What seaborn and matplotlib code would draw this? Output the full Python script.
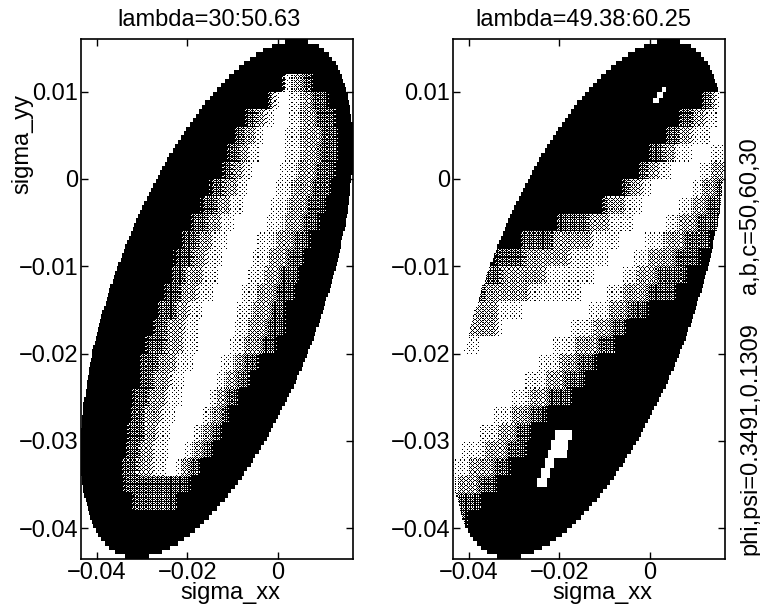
import numpy as np
import matplotlib
matplotlib.use('Agg')
import matplotlib.pyplot as plt
import seaborn as sns

# all strain values below are in units of 1e-3
titles = ['lambda=30:50.63', 'lambda=49.38:60.25']
xticks = [-0.04, -0.02, 0]
yticks = [0.01, 0, -0.01, -0.02, -0.03, -0.04]

# edge of the measured region, one value per row, top to bottom
xx_left = [1.5, -1.3, -3.3, -4.8, -6.2, -7.5, -8.6, -9.7, -10.7, -11.7, -12.6, -13.5, -14.3, -15.1, -15.9, -16.7,
           -17.4, -18.1, -18.8, -19.5, -20.2, -20.8, -21.5, -22.1, -22.7, -23.3, -23.9, -24.4, -25.0, -25.5, -26.1,
           -26.6, -27.1, -27.6, -28.1, -28.6, -29.0, -29.5, -30.0, -30.4, -30.9, -31.3, -31.7, -32.1, -32.5, -32.9,
           -33.3, -33.7, -34.1, -34.5, -34.8, -35.2, -35.5, -35.9, -36.2, -36.5, -36.9, -37.2, -37.5, -37.8, -38.1,
           -38.4, -38.7, -38.9, -39.2, -39.5, -39.7, -40.0, -40.2, -40.4, -40.7, -40.9, -41.1, -41.3, -41.5, -41.7,
           -41.8, -42.0, -42.2, -42.3, -42.5, -42.6, -42.7, -42.9, -43.0, -43.1, -43.2, -43.3, -43.3, -43.4, -43.5,
           -43.5, -43.5, -43.5, -43.5, -43.5, -43.5, -43.5, -43.4, -43.4, -43.3, -43.2, -43.0, -42.9, -42.7, -42.6,
           -42.3, -42.1, -41.8, -41.5, -41.1, -40.7, -40.2, -39.7, -39.0, -38.2, -37.2, -35.9, -33.7]
xx_right = [6.7, 8.9, 10.3, 11.3, 12.0, 12.7, 13.2, 13.7, 14.2, 14.5, 14.8, 15.1, 15.4, 15.6, 15.8, 15.9,
            16.1, 16.2, 16.3, 16.4, 16.5, 16.5, 16.6, 16.6, 16.6, 16.6, 16.6, 16.5, 16.5, 16.4, 16.4,
            16.3, 16.2, 16.1, 16.0, 15.9, 15.8, 15.7, 15.5, 15.4, 15.2, 15.0, 14.9, 14.7, 14.5, 14.3,
            14.1, 13.9, 13.7, 13.5, 13.2, 13.0, 12.8, 12.5, 12.2, 12.0, 11.7, 11.4, 11.1, 10.8, 10.5,
            10.2, 9.9, 9.6, 9.3, 8.9, 8.6, 8.2, 7.9, 7.5, 7.1, 6.8, 6.4, 6.0, 5.6, 5.2,
            4.7, 4.3, 3.9, 3.5, 3.0, 2.5, 2.1, 1.6, 1.1, 0.6, 0.1, -0.4, -0.9, -1.5, -2.0,
            -2.6, -3.1, -3.7, -4.3, -4.9, -5.5, -6.1, -6.8, -7.4, -8.1, -8.8, -9.5, -10.3, -11.0, -11.8,
            -12.7, -13.5, -14.4, -15.3, -16.3, -17.3, -18.3, -19.5, -20.7, -22.1, -23.7, -25.6, -28.5]

# grey shade between consecutive breaks in a row (0 black, 1 white)
shades = [0, 0.3, 0.6, 0.85, 1, 0.85, 0.6, 0.3, 0]
B = 30
S = -60

# where the shade changes along sigma_xx, one row per 0.002 of sigma_yy
left_breaks = [
    [B] * 8, [B] * 8,
    [0.4, 1.5, 2.4, 2.9, 3.5, 4.2, 5.1, 6.2],
    [-3.5, -1.5, 0.2, 2.0, 4.2, 6.0, 7.7, 9.7],
    [-8.4, -5.1, -1.8, 1.1, 4.0, 6.4, 8.6, 11.0],
    [-11.0, -7.7, -4.2, -1.3, 3.3, 6.2, 9.1, 11.5],
    [-12.4, -8.8, -5.5, -2.4, 3.1, 6.0, 8.8, 11.5],
    [-13.5, -10.2, -6.9, -4.0, 2.0, 5.1, 8.2, 10.8],
    [-16.1, -12.2, -8.2, -4.6, 1.3, 4.4, 7.3, 10.0],
    [-18.1, -13.7, -9.5, -5.7, 0.2, 3.3, 6.2, 8.8],
    [-20.3, -15.9, -11.5, -7.7, -0.7, 2.2, 5.1, 7.5],
    [-22.5, -17.9, -13.3, -9.3, -2.7, 0.2, 3.3, 5.7],
    [-24.1, -19.2, -14.6, -10.4, -4.0, -1.1, 1.8, 4.4],
    [-25.0, -20.3, -15.5, -11.5, -5.1, -2.2, 0.7, 3.1],
    [-26.5, -21.7, -16.6, -12.4, -6.4, -3.5, -0.7, 1.8],
    [-27.6, -23.0, -18.6, -14.6, -7.3, -4.6, -2.0, 0.4],
    [-29.0, -24.3, -19.7, -15.7, -8.0, -5.3, -2.7, -0.2],
    [-30.3, -25.2, -20.1, -15.9, -8.8, -6.4, -4.0, -1.8],
    [-31.6, -26.5, -21.4, -17.2, -10.6, -8.8, -7.3, -5.7],
    [-32.0, -27.4, -22.8, -18.8, -12.2, -10.6, -9.1, -7.7],
    [-33.4, -28.5, -23.6, -19.4, -13.3, -12.4, -11.3, -10.4],
    [-34.0, -29.4, -24.8, -20.8, -14.8, -13.9, -13.0, -12.4],
    [-34.3, -29.9, -25.6, -21.9, -16.6, -15.7, -14.8, -13.9],
    [-34.9, -30.5, -26.3, -22.5, -19.0, -17.9, -17.0, -15.9],
    [-35.6, -31.2, -27.0, -23.2, -21.0, -20.3, -19.4, -18.8],
    [-35.4, -21.2, -21.2, -21.2, -21.2, -21.2, -21.2, -21.2],
    [-33.4, -23.9, -23.9, -23.9, -23.9, -23.9, -23.9, -23.9],
    [B] * 8, [B] * 8, [B] * 8,
]
right_breaks = [
    [B] * 8, [B] * 8,
    [14.4, 15.9, B, B, B, B, B, B],
    [10.4, 13.3, 15.5, 17.0, B, B, B, B],
    [5.1, 9.5, 13.3, 16.6, B, B, B, B],
    [2.2, 6.6, 10.4, 14.8, B, B, B, B],
    [-1.5, 2.9, 6.6, 11.1, 14.8, B, B, B],
    [-3.8, -0.7, 2.9, 6.6, 12.6, 14.6, B, B],
    [-7.3, -4.4, -0.7, 2.2, 11.1, 12.6, 14.4, B],
    [-12.0, -9.5, -4.4, 0.0, 8.2, 10.4, 12.6, 15.5],
    [-22.0, -13.9, -8.2, -2.2, 5.1, 7.3, 10.4, 13.7],
    [-30.0, -21.4, -11.7, -5.1, 0.7, 4.4, 7.3, 11.7],
    [-35.4, -28.1, -17.0, -7.3, -2.2, 0.7, 5.1, 9.5],
    [S, -33.2, -22.1, -10.4, -4.4, -2.2, 1.5, 6.6],
    [S, -36.9, -25.9, -13.3, -8.2, -5.1, -0.7, 4.4],
    [S, S, -32.5, -26.5, -11.7, -8.2, -5.1, -2.2],
    [S, S, -33.0, -30.9, -16.1, -11.7, -8.8, -6.6],
    [S, S, S, -36.0, -19.9, -15.5, -11.7, -9.5],
    [S, S, S, -39.8, -22.8, -19.2, -16.1, -13.3],
    [S, S, S, S, -25.9, -22.1, -19.2, -16.1],
    [S, S, S, S, -29.2, -25.9, -22.8, -19.2],
    [S, S, S, S, -33.2, -29.4, -27.0, -24.3],
    [S, S, S, S, -36.0, -32.5, -29.4, -28.1],
    [S, S, S, S, -39.8, -35.4, -31.6, -29.2],
    [S, S, S, S, -42.0, -39.1, -34.7, -32.5],
    [S, S, S, S, S, -42.0, -38.2, -35.4],
    [S, S, S, S, S, S, -42.4, -39.1],
    [S, S, S, S, S, S, S, -42.0],
    [S] * 8, [S] * 8,
]

# white gaps in the right panel
hole_yy_top = [10.5, 10.0, 9.3, -28.8, -29.9, -31.0, -32.0, -33.1, -34.2]
hole_yy_bottom = [10.0, 9.3, 8.7, -29.9, -31.0, -32.0, -33.1, -34.2, -35.2]
hole_xx_left = [2.7, 1.5, 0.7, -21.0, -21.8, -22.5, -23.3, -24.1, -24.9]
hole_xx_right = [3.5, 3.1, 2.0, -17.2, -17.9, -18.3, -21.2, -21.9, -22.8]

XX0 = -43.5
YY0 = 16.0
DX = 0.25
DY = 0.125
W = 760
H = 605

# halftone screen, the scan in the source is black dots on white
screen = (np.array([[0, 8, 2, 10], [12, 4, 14, 6], [3, 11, 1, 9], [15, 7, 13, 5]]) + 0.5) / 16


def build_grid(breaks):
    xx = XX0 + DX * (np.arange(240) + 0.5)
    grid = np.full((len(xx_left) * 4, len(xx)), np.nan)
    for i in range(grid.shape[0]):
        thresh = screen[i % 4, np.arange(len(xx)) % 4]
        # shift the lookup a little so the bands fade into each other
        row = np.array(shades)[np.searchsorted(breaks[i // 16], xx + (thresh - 0.5) * 4)]
        inside = (xx >= xx_left[i // 4]) & (xx <= xx_right[i // 4])
        grid[i, inside] = (row[inside] > thresh[inside]).astype(float)
    return grid, xx


def px_text(x, y, s, **kw):
    fig.text(x / W, 1 - y / H, s, ha='center', va='center', fontsize=17, color='black', **kw)


sns.set_theme(style='ticks')
plt.rcParams['font.family'] = ['Liberation Sans', 'DejaVu Sans']

fig = plt.figure(figsize=(7.6, 6.05), dpi=100)
lefts = [81, 453]
grids = [left_breaks, right_breaks]
for n in range(2):
    ax = fig.add_axes([lefts[n] / W, 1 - 558.8 / H, 271.5 / W, 519.5 / H])
    grid, xx = build_grid(grids[n])
    if n == 1:
        yy = YY0 - DY * (np.arange(grid.shape[0]) + 0.5)
        for t, b, l, r in zip(hole_yy_top, hole_yy_bottom, hole_xx_left, hole_xx_right):
            rows = (yy <= t) & (yy >= b)
            cols = (xx >= l) & (xx <= r)
            grid[np.ix_(rows, cols)] = 1
    sns.heatmap(grid, ax=ax, cmap='gray', vmin=0, vmax=1, cbar=False, mask=np.isnan(grid),
                xticklabels=False, yticklabels=False)
    for s in ax.spines.values():
        s.set_visible(True)
        s.set_color('black')
        s.set_linewidth(1.2)
    ax.set_xticks([(v * 1000 - XX0) / DX for v in xticks])
    ax.set_xticklabels(['\u22120.04', '\u22120.02', '0'])
    ax.set_yticks([(YY0 - v * 1000) / DY for v in yticks])
    ax.set_yticklabels(['0.01', '0', '\u22120.01', '\u22120.02', '\u22120.03', '\u22120.04'])
    ax.tick_params(direction='in', top=True, right=True, length=5, width=1, labelsize=17,
                   labelcolor='black', color='black', pad=2)

px_text(209, 20, titles[0])
px_text(583, 20, titles[1])
px_text(230, 593, 'sigma_xx')
px_text(602, 593, 'sigma_xx')
px_text(22, 144, 'sigma_yy', rotation=90)
px_text(750, 216, 'a,b,c=50,60,30', rotation=90)
px_text(750, 439, 'phi,psi=0.3491,0.1309', rotation=90)

plt.savefig('out.png', dpi=100)
